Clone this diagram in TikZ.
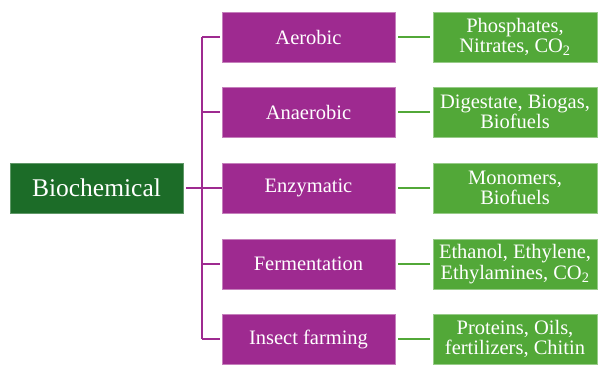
\documentclass[tikz,border=0pt]{standalone}
\usepackage{fontspec}
\setmainfont{Liberation Serif}
\definecolor{rootgreen}{RGB}{28,108,40}
\definecolor{procpurple}{RGB}{158,42,144}
\definecolor{prodgreen}{RGB}{82,168,56}
\tikzset{
  base/.style={rectangle, inner sep=0pt, align=center, text=white,
    font=\fontsize{20.5}{20.5}\selectfont, line width=0.6pt},
  rootbox/.style={base, fill=rootgreen, draw=rootgreen!70!white,
    minimum width=173pt, minimum height=50pt, font=\fontsize{25.5}{26}\selectfont},
  procbox/.style={base, fill=procpurple, draw=procpurple!60!white,
    minimum width=173pt, minimum height=50pt},
  prodbox/.style={base, fill=prodgreen, draw=prodgreen!60!white,
    minimum width=164pt, minimum height=50pt},
  busline/.style={draw=procpurple, line width=2pt},
  prodline/.style={draw=prodgreen, line width=2pt}
}
\begin{document}
\begin{tikzpicture}[x=1pt,y=-1pt]
\useasboundingbox (0,0) rectangle (598,365);

% root
\node[rootbox] (root) at (96.5,188) {Biochemical};

% processes
\node[procbox] (p1) at (308.5,37)  {Aerobic};
\node[procbox] (p2) at (308.5,112) {Anaerobic};
\node[procbox] (p3) at (308.5,188) {Enzymatic};
\node[procbox] (p4) at (308.5,264) {Fermentation};
\node[procbox] (p5) at (308.5,339) {Insect farming};

% products
\node[prodbox] (q1) at (515,37)  {Phosphates,\\Nitrates, CO\textsubscript{2}};
\node[prodbox] (q2) at (515,112) {Digestate, Biogas,\\Biofuels};
\node[prodbox] (q3) at (515,188) {Monomers,\\Biofuels};
\node[prodbox] (q4) at (515,264) {Ethanol, Ethylene,\\Ethylamines, CO\textsubscript{2}};
\node[prodbox] (q5) at (515,339) {Proteins, Oils,\\fertilizers, Chitin};

% bus from the root to the processes
\coordinate (bt) at (202,37);
\coordinate (bb) at (202,339);
\draw[busline] (bt) -- (bb);
\draw[busline] ([xshift=3pt]root.east) -- (p3.west);
\foreach \i in {1,2,3,4,5}{
  \draw[busline] (p\i.west -| bt) -- ([xshift=-1.5pt]p\i.west);
  \draw[prodline] ([xshift=3pt]p\i.east) -- ([xshift=-3pt]q\i.west);
}
\end{tikzpicture}
\end{document}
